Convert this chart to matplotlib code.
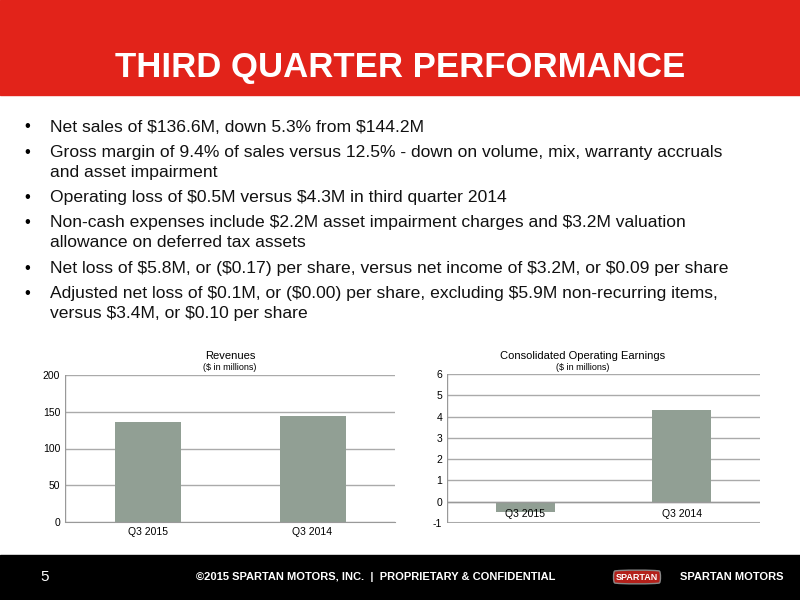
import matplotlib.pyplot as plt
from matplotlib.patches import Rectangle

W, H = 800, 600

quarters = ['Q3 2015', 'Q3 2014']
revenues = [136.6, 144.2]
op_earnings = [-0.5, 4.3]

bullets = [
    ['Net sales of $136.6M, down 5.3% from $144.2M'],
    ['Gross margin of 9.4% of sales versus 12.5% - down on volume, mix, warranty accruals',
     'and asset impairment'],
    ['Operating loss of $0.5M versus $4.3M in third quarter 2014'],
    ['Non-cash expenses include $2.2M asset impairment charges and $3.2M valuation',
     'allowance on deferred tax assets'],
    ['Net loss of $5.8M, or ($0.17) per share, versus net income of $3.2M, or $0.09 per share'],
    ['Adjusted net loss of $0.1M, or ($0.00) per share, excluding $5.9M non-recurring items,',
     'versus $3.4M, or $0.10 per share'],
]

plt.rcParams['font.family'] = ['Liberation Sans', 'DejaVu Sans']
plt.rcParams['text.parse_math'] = False
plt.rcParams['axes.unicode_minus'] = False
fig = plt.figure(figsize=(8, 6), dpi=100)

def fy(y):
    return 1 - y / H

# header and footer bands
fig.patches.append(Rectangle((0, fy(95)), 1, 95 / H, transform=fig.transFigure, color='#E2231A', zorder=0))
fig.patches.append(Rectangle((0, 0), 1, 45 / H, transform=fig.transFigure, color='#000000', zorder=0))
fig.text(0.5, fy(68), 'THIRD QUARTER PERFORMANCE', color='white', fontsize=25,
         fontweight='bold', ha='center', va='center')

# bullets
y = 127
for b in bullets:
    fig.text(24 / W, fy(y), '•', fontsize=12, va='center')
    for i, line in enumerate(b):
        fig.text(50 / W, fy(y), line, fontsize=12.6, va='center', color='#111111')
        y += 20
    y += 5.3

# footer text
fig.text(40 / W, fy(577), '5', color='white', fontsize=11, va='center')
fig.text(196 / W, fy(577), '©2015 SPARTAN MOTORS, INC.  |  PROPRIETARY & CONFIDENTIAL',
         color='white', fontsize=8, fontweight='bold', va='center')
fig.text(680 / W, fy(577), 'SPARTAN MOTORS', color='white', fontsize=8, fontweight='bold', va='center')
fig.text(637 / W, fy(577), 'SPARTAN', color='white', fontsize=6.5, fontweight='bold', va='center',
         ha='center', bbox=dict(boxstyle='round4,pad=0.3', fc='#B3201A', ec='#888888'))

bar_color = '#919F94'

def style(ax):
    for s in ['top', 'right', 'left']:
        ax.spines[s].set_visible(False)
    ax.spines['bottom'].set_color('#999999')
    ax.tick_params(axis='y', length=0, labelsize=7.5)
    ax.tick_params(axis='x', length=0, labelsize=7.5)
    ax.grid(axis='y', color='#AAAAAA', linewidth=1)
    ax.set_axisbelow(True)
    ax.set_xlim(-0.5, 1.5)

# revenues
ax1 = fig.add_axes([65 / W, fy(522), 330 / W, 147 / H])
ax1.bar(quarters, revenues, width=0.4, color=bar_color)
ax1.set_ylim(0, 200)
ax1.set_yticks([0, 50, 100, 150, 200])
style(ax1)
ax1.axvline(-0.5, color='#999999', lw=1)
fig.text(230 / W, fy(356), 'Revenues', fontsize=8, ha='center', va='center')
fig.text(230 / W, fy(368), '($ in millions)', fontsize=6.5, ha='center', va='center')

# operating earnings
ax2 = fig.add_axes([447 / W, fy(523), 313 / W, 149 / H])
ax2.bar(quarters, op_earnings, width=0.38, color=bar_color, zorder=1)
ax2.set_ylim(-1, 6)
ax2.set_yticks(range(-1, 7))
style(ax2)
ax2.spines['bottom'].set_visible(False)
ax2.axhline(0, color='#999999', lw=1)
ax2.axhline(-1, color='#AAAAAA', lw=1.5)
ax2.axvline(-0.5, color='#999999', lw=1)
ax2.set_xticks([0, 1], [])
for i, q in enumerate(quarters):
    ax2.text(i, -0.6, q, fontsize=7.5, ha='center', va='center', zorder=5)
fig.text(583 / W, fy(356), 'Consolidated Operating Earnings', fontsize=8, ha='center', va='center')
fig.text(583 / W, fy(368), '($ in millions)', fontsize=6.5, ha='center', va='center')

fig.savefig('out.png', dpi=100)
